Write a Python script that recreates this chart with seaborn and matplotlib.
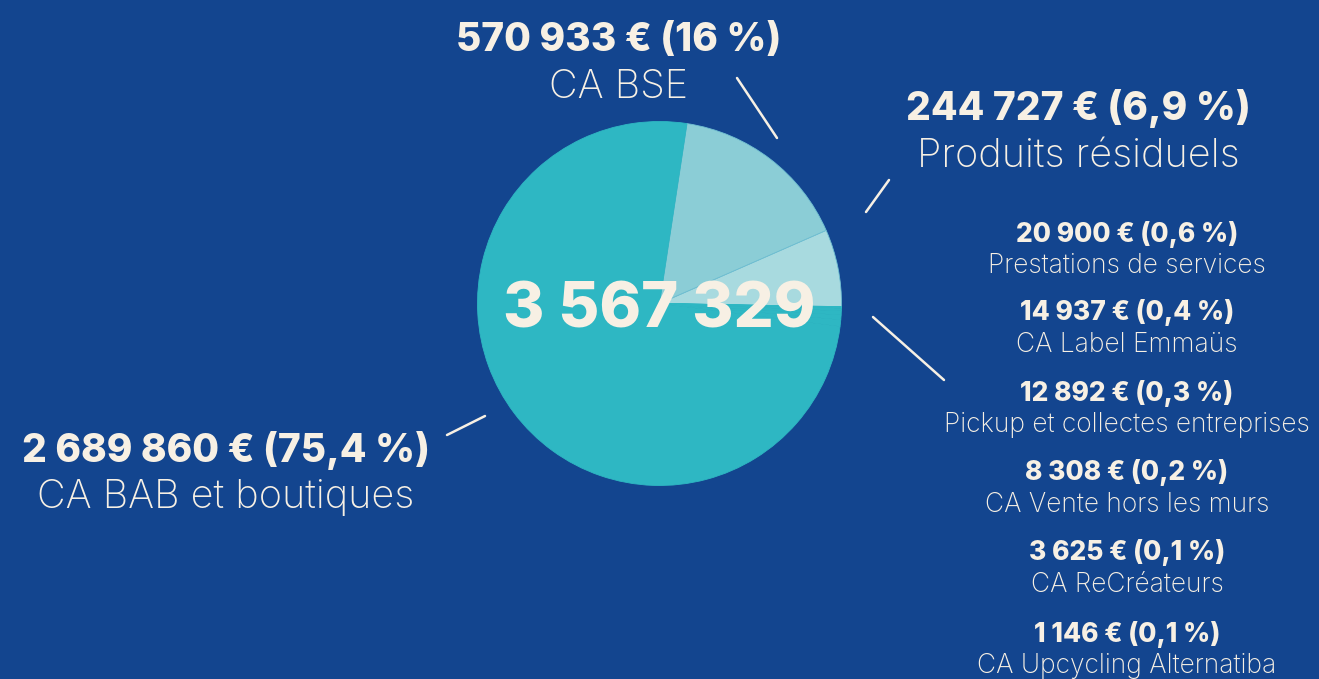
import matplotlib.pyplot as plt
import seaborn as sns

# Data
categories = ["Produits résiduels", "CA BSE", "CA BAB et boutiques",
              "Prestations de services", "CA Label Emmaüs",
              "Pickup et collectes entreprises", "CA Vente hors les murs",
              "CA ReCréateurs", "CA Upcycling Alternatiba"]
values = [244727, 570933, 2689860, 20900, 14937, 12892, 8308, 3625, 1146]
pct_labels = ["6,9", "16", "75,4", "0,6", "0,4", "0,3", "0,2", "0,1", "0,1"]
total_label = "3 567 329"

BG = "#13458f"
TEAL = "#2eb7c3"
CREAM = "#f7f0e4"
slice_colors = ["#a8dadf", "#8bcdd6", TEAL] + [TEAL] * 6

sns.set_theme(style="white")
plt.rcParams['font.family'] = ['Inter', 'DejaVu Sans']

W, H = 1319, 679
fig = plt.figure(figsize=(W / 100, H / 100), dpi=100, facecolor=BG)


def px(x, y):
    return x / W, 1 - y / H


def fmt(v):
    return f"{v:,}".replace(",", " ")


# pie area (centre ~ (660, 304), radius ~182 px)
cx, cy, r = 659.5, 303.5, 182
ax = fig.add_axes([(cx - r) / W, (H - cy - r) / H, 2 * r / W, 2 * r / H])
ax.set_facecolor(BG)
wedges, _ = ax.pie(values, colors=slice_colors, startangle=-1, counterclock=True,
                   radius=1, wedgeprops=dict(linewidth=0.6, edgecolor="#6fbfd2"))
for w in wedges[2:]:
    w.set_edgecolor(TEAL)
ax.set_xlim(-1, 1)
ax.set_ylim(-1, 1)
ax.axis("off")

ax.text(0, -0.04, total_label, ha="center", va="center", color=CREAM,
        fontsize=45.5, fontweight="heavy")


def label(i, x, y, y2, size_b, size_l):
    fig.text(*px(x, y), f"{fmt(values[i])} € ({pct_labels[i]} %)",
             ha="center", va="center", color=CREAM, fontsize=size_b,
             fontweight="heavy")
    fig.text(*px(x, y2), categories[i], ha="center", va="center",
             color=CREAM, fontsize=size_l, fontweight="light")


# main labels
label(1, 619, 40, 88, 28, 28.5)
label(0, 1078, 108, 156, 28, 28.5)
label(2, 226, 450, 497, 28, 28.5)

# small categories list
ys = [234, 313, 393, 473, 553, 634]
for k, i in enumerate(range(3, 9)):
    label(i, 1127, ys[k], ys[k] + 32, 19, 19)

# leader lines
for (x0, y0), (x1, y1) in [((737, 78), (777, 138)), ((889, 180), (866, 212)),
                           ((873, 317), (944, 380)), ((447, 435), (485, 416))]:
    fig.add_artist(plt.Line2D([x0 / W, x1 / W], [1 - y0 / H, 1 - y1 / H],
                              transform=fig.transFigure, color=CREAM, lw=1.8))

fig.savefig("out.png", dpi=100, facecolor=BG)
